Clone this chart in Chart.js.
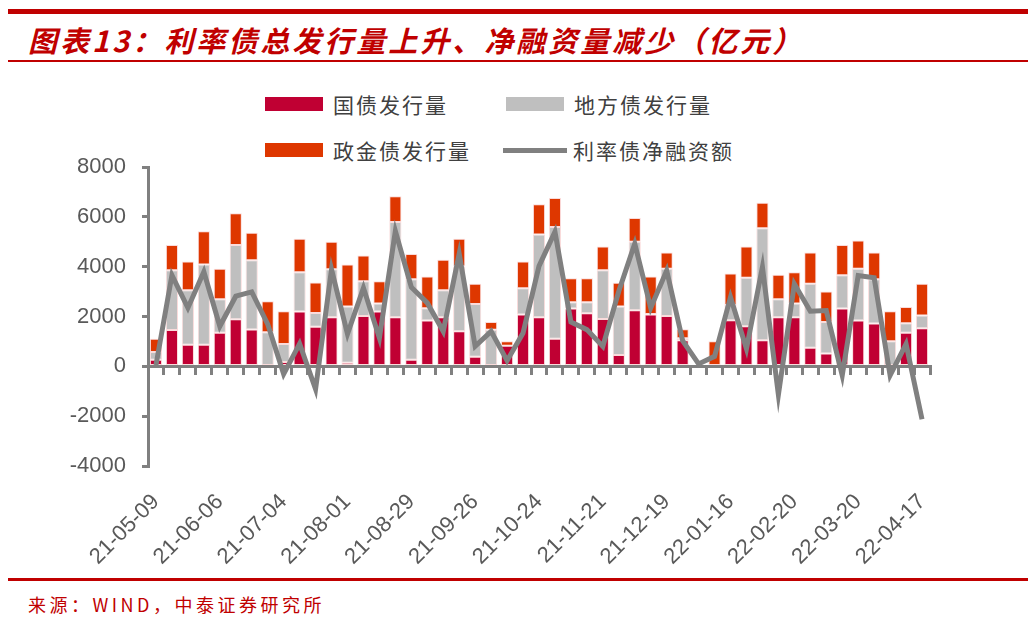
<!DOCTYPE html>
<html>
<head>
<meta charset="utf-8">
<script src="https://cdn.jsdelivr.net/npm/chart.js@4"></script>
<style>
  html, body { margin: 0; padding: 0; background: #ffffff; }
  body { width: 1036px; height: 617px; position: relative; overflow: hidden; }
  .rule { position: absolute; background: #C00000; }
  #title { position: absolute; left: 28px; top: 19px; font-family: "Noto Sans CJK SC", sans-serif; font-weight: bold; font-style: italic; font-size: 29px; letter-spacing: 3px; color: #C00000; white-space: nowrap; line-height: 40px; }
  #footer { position: absolute; left: 28px; top: 591px; font-family: "Noto Sans CJK SC", sans-serif; font-size: 18px; letter-spacing: 3.5px; color: #C00000; white-space: nowrap; line-height: 26px; }
  #legend { position: absolute; left: 0; top: 0; }
  .item { position: absolute; display: flex; align-items: center; height: 30px; font-family: "Noto Sans CJK SC", sans-serif; font-size: 21px; letter-spacing: 2px; color: #404040; white-space: nowrap; }
  .swatch { display: inline-block; margin-right: 10px; }
  #wrap { position: absolute; left: 0; top: 138px; width: 1036px; height: 432px; }
</style>
</head>
<body>
<div class="rule" style="left:8px; top:9px; width:1020px; height:5px;"></div>
<div id="title">图表13：利率债总发行量上升、净融资量减少（亿元）</div>
<div class="rule" style="left:8px; top:60px; width:1020px; height:2px;"></div>
<div id="legend"></div>
<div id="wrap"><canvas id="c" width="1036" height="432"></canvas></div>
<div class="rule" style="left:8px; top:578px; width:1020px; height:3px;"></div>
<div id="footer">来源：WIND，中泰证券研究所</div>
<script>
const categories = [
  "21-05-09","21-05-16","21-05-23","21-05-30","21-06-06","21-06-13","21-06-20","21-06-27",
  "21-07-04","21-07-11","21-07-18","21-07-25","21-08-01","21-08-08","21-08-15","21-08-22",
  "21-08-29","21-09-05","21-09-12","21-09-19","21-09-26","21-10-03","21-10-10","21-10-17",
  "21-10-24","21-10-31","21-11-07","21-11-14","21-11-21","21-11-28","21-12-05","21-12-12",
  "21-12-19","21-12-26","22-01-02","22-01-09","22-01-16","22-01-23","22-02-06","22-02-13",
  "22-02-20","22-02-27","22-03-06","22-03-13","22-03-20","22-03-27","22-04-03","22-04-10",
  "22-04-17"
];
const tickLabels = ["21-05-09","21-06-06","21-07-04","21-08-01","21-08-29","21-09-26","21-10-24",
  "21-11-21","21-12-19","22-01-16","22-02-20","22-03-20","22-04-17"];

const treasuryIssuance = [270,1463,872,872,1356,1893,1477,0,175,2201,1597,1973,148,2027,2201,1973,
  268,1839,1973,1409,389,0,832,2081,1973,1114,2322,2134,1906,456,2255,2081,2027,1047,0,0,1852,1611,
  1047,1973,1973,752,523,2322,1839,1718,0,1356,1530];
const localIssuance = [307,2403,2188,3222,1342,2979,2791,1369,725,1584,551,1933,2255,1396,322,3826,
  3235,497,1087,2618,2121,1476,0,1060,3329,4483,255,443,1960,1947,2752,26,1892,81,0,0,618,1946,
  4497,725,550,2563,1262,1342,2080,1785,1007,376,510];
const policyBankIssuance = [537,1007,1155,1329,1221,1276,1101,1248,1315,1343,1221,1101,1691,1033,900,1033,
  1007,1275,1222,1101,805,309,175,1074,1208,1168,967,967,953,953,953,1504,658,362,0,1007,1262,1262,
  1033,980,1262,1262,1222,1208,1141,1074,1208,657,1275];
const netFinancing = [50,3664,2349,3799,1611,2819,2993,1700,-309,913,-913,3893,1302,3154,1141,5436,
  3181,2550,1409,4523,805,1409,228,1342,4027,5409,1785,1477,805,3020,4926,2349,3852,1034,100,403,
  2779,711,3987,-1141,3315,2215,2242,-362,3651,3557,-362,899,-2121];

const seriesNames = ["国债发行量","地方债发行量","政金债发行量","利率债净融资额"];
const colors = ["#C00033","#BFBFBF","#DE3700","#808080"];

const barCommon = { stack: "issue", order: 1, barPercentage: 0.76, categoryPercentage: 1.0,
  borderWidth: 1, borderColor: "rgba(250,215,215,0.9)", borderSkipped: false };

const data = {
  labels: categories,
  datasets: [
    Object.assign({ type: "bar", label: seriesNames[0], data: treasuryIssuance, backgroundColor: colors[0] }, barCommon),
    Object.assign({ type: "bar", label: seriesNames[1], data: localIssuance, backgroundColor: colors[1] }, barCommon),
    Object.assign({ type: "bar", label: seriesNames[2], data: policyBankIssuance, backgroundColor: colors[2] }, barCommon),
    { type: "line", label: seriesNames[3], data: netFinancing, borderColor: colors[3], backgroundColor: colors[3],
      borderWidth: 5, pointRadius: 0, tension: 0, stack: "net", order: 0, borderJoinStyle: "miter" }
  ]
};

const axisGray = "#808080";
const chart = new Chart(document.getElementById("c"), {
  data,
  options: {
    responsive: false,
    devicePixelRatio: 1,
    animation: false,
    layout: { padding: { top: 4, right: 106, left: 0, bottom: 0 } },
    plugins: { legend: { display: false }, tooltip: { enabled: false }, title: { display: false } },
    scales: {
      y: {
        stacked: true,
        min: -4000, max: 8000,
        ticks: { stepSize: 2000, font: { family: "Liberation Sans", size: 22 }, color: "#595959", padding: 16,
          callback: v => String(v) },
        grid: { drawOnChartArea: false, drawTicks: true, tickLength: 6, color: axisGray, lineWidth: 3 },
        border: { color: axisGray, width: 3 },
        afterFit: s => { s.width = 148; }
      },
      x: {
        type: "category",
        stacked: true,
        position: { y: 0 },
        offset: true,
        ticks: { display: false },
        grid: { drawOnChartArea: false, drawTicks: true, tickLength: 7, color: axisGray, lineWidth: 3, offset: true },
        border: { color: axisGray, width: 3 },
        afterFit: s => { s.height = 0; }
      },
      x2: {
        type: "category",
        position: "bottom",
        offset: true,
        grid: { display: false },
        border: { display: false },
        ticks: {
          autoSkip: false, maxRotation: 45, minRotation: 45, padding: 15,
          font: { family: "Liberation Sans", size: 22 }, color: "#595959",
          callback: (v, i) => tickLabels.includes(categories[i]) ? categories[i] : ""
        },
        afterFit: s => { s.height = 104; }
      }
    }
  }
});

// HTML legend in a 2x2 grid, built from the chart's datasets
const legendPos = [
  { left: 265, top: 89 }, { left: 506, top: 89 },
  { left: 265, top: 135 }, { left: 503, top: 135 }
];
const legendEl = document.getElementById("legend");
chart.data.datasets.forEach((ds, i) => {
  const item = document.createElement("div");
  item.className = "item";
  item.style.left = legendPos[i].left + "px";
  item.style.top = legendPos[i].top + "px";
  const sw = document.createElement("span");
  sw.className = "swatch";
  if (ds.type === "line") {
    sw.style.width = "64px"; sw.style.height = "5px"; sw.style.marginRight = "6px";
  } else {
    sw.style.width = "58px"; sw.style.height = "14px";
  }
  sw.style.background = ds.backgroundColor;
  const tx = document.createElement("span");
  tx.textContent = ds.label;
  item.appendChild(sw); item.appendChild(tx);
  legendEl.appendChild(item);
});
</script>
</body>
</html>
